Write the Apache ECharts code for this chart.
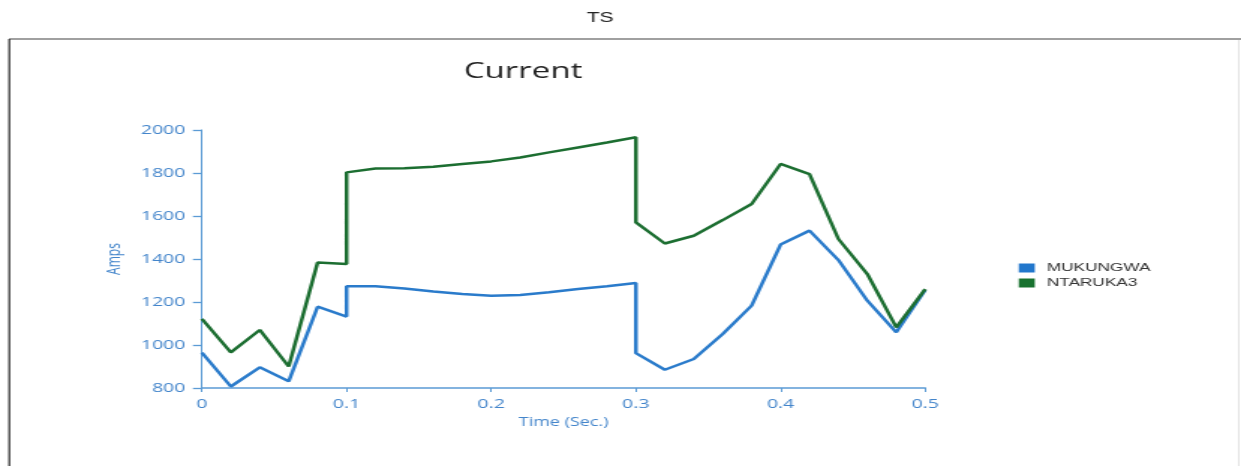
<!DOCTYPE html>
<html>
<head>
<meta charset="utf-8">
<script src="https://cdn.jsdelivr.net/npm/echarts@6/dist/echarts.min.js"></script>
<style>
  html, body { margin: 0; padding: 0; background: #ffffff; overflow: hidden; }
  /* the chart is laid out narrow and widened horizontally */
  #wrap { width: 1241px; height: 466px; overflow: hidden; }
  #chart { width: 828px; height: 466px; transform: scaleX(1.4988); transform-origin: 0 0; }
</style>
</head>
<body>
<div id="wrap"><div id="chart"></div></div>
<script>
// Time samples (s); the switching instants 0.1 and 0.3 appear twice
var times = [0, 0.02, 0.04, 0.06, 0.08, 0.1, 0.1, 0.12, 0.14, 0.16, 0.18, 0.2, 0.22, 0.24,
             0.26, 0.28, 0.3, 0.3, 0.32, 0.34, 0.36, 0.38, 0.4, 0.42, 0.44, 0.46, 0.48, 0.5];
var mukungwa = [965, 807, 896, 831, 1178, 1132, 1273, 1273, 1263, 1249, 1237, 1229, 1233, 1245,
                1260, 1273, 1288, 962, 885, 935, 1051, 1183, 1467, 1532, 1395, 1206, 1059, 1256];
var ntaruka3 = [1121, 966, 1070, 900, 1384, 1377, 1803, 1821, 1822, 1829, 1842, 1854, 1872, 1896,
                1919, 1942, 1966, 1570, 1472, 1508, 1581, 1656, 1842, 1795, 1493, 1330, 1082, 1260];
var seriesNames = ['MUKUNGWA', 'NTARUKA3'];
var yTicks = [800, 1000, 1200, 1400, 1600, 1800, 2000];
var xTicks = [0, 0.1, 0.2, 0.3, 0.4, 0.5];

function pairs(ys) {
  return times.map(function (t, i) { return [t, ys[i]]; });
}

var axisBlue = '#5b9bd5';
var labelBlue = '#4385cb';

var chart = echarts.init(document.getElementById('chart'), null, { renderer: 'canvas' });
chart.setOption({
  animation: false,
  backgroundColor: '#ffffff',
  title: [
    { text: 'TS', left: 395.5, top: 6, textAlign: 'center',
      textStyle: { fontFamily: 'Liberation Sans', fontSize: 14, fontWeight: 'normal', color: '#222' } },
    { text: 'Current', left: 344, top: 56, textAlign: 'center',
      textStyle: { fontFamily: 'Open Sans', fontSize: 22, fontWeight: 'normal', color: '#222' } }
  ],
  graphic: [
    { type: 'line', shape: { x1: 6, y1: 39, x2: 828, y2: 39 }, style: { stroke: '#a0a0a0', lineWidth: 2 } },
    { type: 'line', shape: { x1: 6.2, y1: 39, x2: 6.2, y2: 466 }, style: { stroke: '#222', lineWidth: 1.2 } },
    { type: 'line', shape: { x1: 826.5, y1: 40, x2: 826.5, y2: 466 }, style: { stroke: '#e4e4e4', lineWidth: 1 } }
  ],
  legend: {
    orient: 'vertical', left: 674.7, top: 257,
    itemWidth: 10.7, itemHeight: 9, itemGap: 3,
    icon: 'rect',
    data: seriesNames,
    textStyle: { fontFamily: 'Liberation Sans', fontSize: 11.5, color: '#333', padding: [0, 0, 0, 3] }
  },
  grid: { left: 134.7, right: 210.7, top: 130, bottom: 78, containLabel: false, outerBoundsMode: 'none' },
  xAxis: {
    type: 'value', min: 0, max: 0.5, interval: 0.1,
    name: 'Time (Sec.)', nameLocation: 'middle', nameGap: 29,
    nameTextStyle: { fontFamily: 'Open Sans', fontSize: 12, color: labelBlue },
    axisLine: { show: true, onZero: false, lineStyle: { color: axisBlue, width: 1.5 } },
    axisTick: { show: true, length: 4, lineStyle: { color: axisBlue, width: 1 } },
    axisLabel: { margin: 10, fontFamily: 'Open Sans', fontSize: 13, color: labelBlue,
                 formatter: function (v) { return xTicks.indexOf(v) >= 0 ? String(v) : ''; } },
    splitLine: { show: false }
  },
  yAxis: {
    type: 'value', min: 800, max: 2000, interval: 200,
    name: 'Amps', nameLocation: 'middle', nameGap: 50, nameRotate: 90,
    nameTextStyle: { fontFamily: 'Open Sans', fontSize: 12, color: labelBlue },
    axisLine: { show: true, lineStyle: { color: axisBlue, width: 1 } },
    axisTick: { show: true, length: 6, lineStyle: { color: axisBlue, width: 1.3 } },
    axisLabel: { margin: 11, fontFamily: 'Open Sans', fontSize: 13, color: labelBlue,
                 formatter: function (v) { return yTicks.indexOf(v) >= 0 ? String(v) : ''; } },
    splitLine: { show: false }
  },
  series: [
    { name: seriesNames[0], type: 'line', data: pairs(mukungwa), symbol: 'none',
      color: '#2277cc', lineStyle: { color: '#2a7bcb', width: 2.5 } },
    { name: seriesNames[1], type: 'line', data: pairs(ntaruka3), symbol: 'none',
      color: '#18722f', lineStyle: { color: '#1c6e31', width: 2.5 } }
  ]
});
</script>
</body>
</html>
